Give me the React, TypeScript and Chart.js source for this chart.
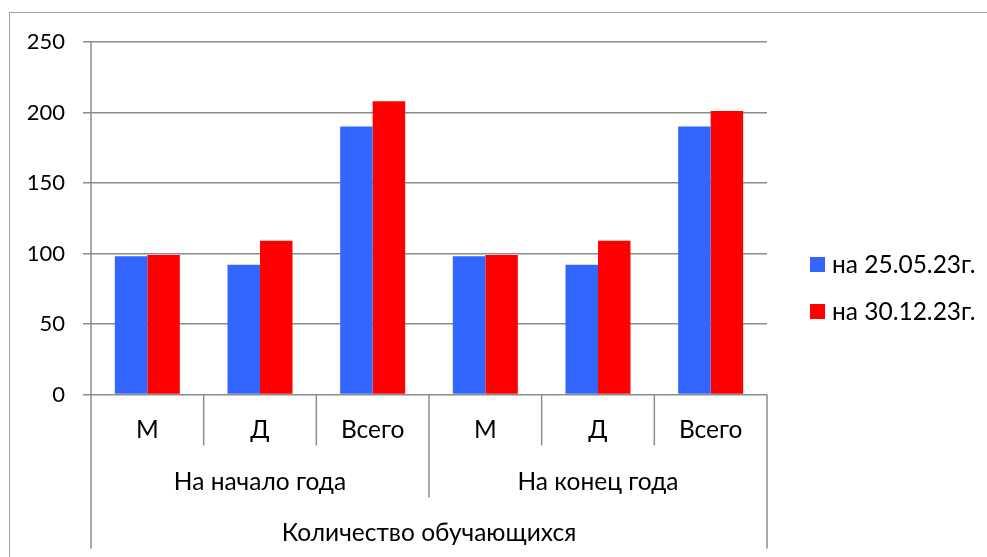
import React, { useEffect, useRef } from "react";
import { Chart, registerables } from "chart.js";

Chart.register(...registerables);

const categories = ["М", "Д", "Всего", "М", "Д", "Всего"];
const groupLabels = ["На начало года", "На конец года"];
const outerLabel = "Количество обучающихся";
const seriesLabels = ["на 25.05.23г.", "на 30.12.23г."];
const seriesA = [98, 92, 190, 98, 92, 190];
const seriesB = [99, 109, 208, 99, 109, 201];
const colors = ["#3366FF", "#FF0000"];
const yTicks = [0, 50, 100, 150, 200, 250];

const FONT = "Lato, 'Open Sans', sans-serif";
const FONT_SIZE = 24.5;
const TICK_SIZE = 22;
const GRID = "#8c8c8c";

const axesPlugin = {
  id: "multiLevelAxis",
  afterDraw(chart: any) {
    const ctx = chart.ctx;
    const x = chart.scales.x;
    const area = chart.chartArea;
    const n = categories.length;
    const step = x.getPixelForValue(1) - x.getPixelForValue(0);
    const edge = (i: number) => x.getPixelForValue(i) - step / 2;
    const y0 = area.bottom;
    const l1 = y0 + 51;
    const l2 = y0 + 103;
    const l3 = y0 + 154;
    ctx.save();
    // outer border
    ctx.strokeStyle = "#a0a0a0";
    ctx.lineWidth = 1;
    ctx.strokeRect(9.5, 12.5, 1200, 800);
    ctx.strokeStyle = GRID;
    ctx.lineWidth = 1.5;
    ctx.beginPath();
    // left axis line spanning all levels
    ctx.moveTo(area.left, area.top);
    ctx.lineTo(area.left, l3);
    // level-1 dividers
    for (let i = 1; i <= n; i++) {
      ctx.moveTo(edge(i), y0);
      ctx.lineTo(edge(i), l1);
    }
    // level-2 dividers
    const half = n / 2;
    ctx.moveTo(edge(half), y0);
    ctx.lineTo(edge(half), l2);
    ctx.moveTo(edge(n), y0);
    ctx.lineTo(edge(n), l2);
    // level-3
    ctx.moveTo(edge(n), y0);
    ctx.lineTo(edge(n), l3);
    ctx.stroke();

    ctx.fillStyle = "#000";
    ctx.font = `${FONT_SIZE}px ${FONT}`;
    ctx.textAlign = "center";
    ctx.textBaseline = "middle";
    categories.forEach((c, i) => {
      ctx.fillText(c, x.getPixelForValue(i), y0 + 36);
    });
    groupLabels.forEach((g, k) => {
      const cx = (edge(k * half) + edge((k + 1) * half)) / 2;
      ctx.fillText(g, cx, y0 + 88);
    });
    ctx.fillText(outerLabel, (edge(0) + edge(n)) / 2, y0 + 139);

    // legend
    ctx.textAlign = "left";
    seriesLabels.forEach((s, k) => {
      const cy = 264 + k * 47;
      ctx.fillStyle = colors[k];
      ctx.fillRect(810, cy - 7, 15, 15);
      ctx.fillStyle = "#000";
      ctx.fillText(s, 832, cy + 1);
    });
    ctx.restore();
  },
};

export default function App() {
  const ref = useRef<HTMLCanvasElement | null>(null);
  useEffect(() => {
    document.body.style.margin = "0";
    const chart = new Chart(ref.current!, {
      type: "bar",
      data: {
        labels: categories,
        datasets: [
          { label: seriesLabels[0], data: seriesA, backgroundColor: colors[0], categoryPercentage: 0.577, barPercentage: 1 },
          { label: seriesLabels[1], data: seriesB, backgroundColor: colors[1], categoryPercentage: 0.577, barPercentage: 1 },
        ],
      },
      options: {
        animation: false,
        responsive: false,
        devicePixelRatio: 1,
        layout: { padding: { left: 0, top: 42, right: 220, bottom: 0 } },
        plugins: { legend: { display: false }, tooltip: { enabled: false } },
        scales: {
          x: {
            grid: { display: false },
            border: { display: false },
            ticks: { display: false },
            afterFit(scale: any) {
              scale.height = 162.5;
            },
          },
          y: {
            min: 0,
            max: 250,
            afterBuildTicks(scale: any) {
              scale.ticks = yTicks.map((v) => ({ value: v }));
            },
            grid: { color: GRID, lineWidth: 1.5, tickLength: 8 },
            border: { display: false },
            ticks: { color: "#000", font: { family: FONT, size: TICK_SIZE }, padding: 18 },
            afterFit(scale: any) {
              scale.width = 91;
            },
          },
        },
      },
      plugins: [axesPlugin],
    });
    return () => chart.destroy();
  }, []);
  return <canvas ref={ref} width={987} height={557} style={{ display: "block" }} />;
}
